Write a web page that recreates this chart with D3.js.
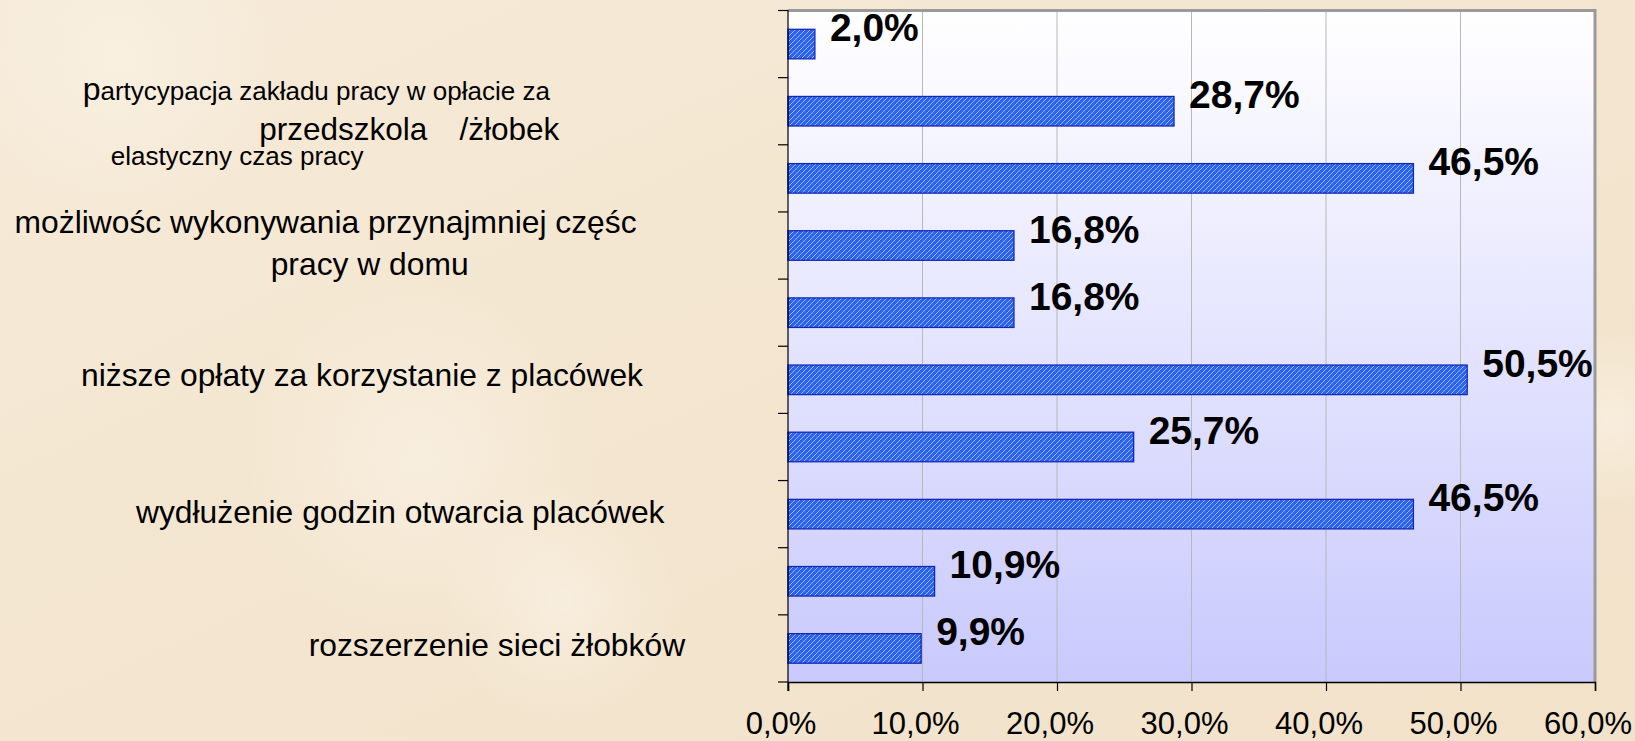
<!DOCTYPE html>
<html>
<head>
<meta charset="utf-8">
<script src="https://cdn.jsdelivr.net/npm/d3@7"></script>
<style>
  html, body { margin: 0; padding: 0; background: #F3E5CF; }
  svg { display: block; }
  text { font-family: "Liberation Sans", Arial, sans-serif; fill: #000; }
</style>
</head>
<body>
<svg id="chart" width="1635" height="741"></svg>
<script>
// ---- data (top to bottom) ----
const categories = [
  "",
  "partycypacja zakładu pracy w opłacie za przedszkola /żłobek",
  "elastyczny czas pracy",
  "możliwośc wykonywania przynajmniej częśc pracy w domu",
  "",
  "niższe opłaty za korzystanie z placówek",
  "",
  "wydłużenie godzin otwarcia placówek",
  "",
  "rozszerzenie sieci żłobków"
];
const values = [2.0, 28.7, 46.5, 16.8, 16.8, 50.5, 25.7, 46.5, 10.9, 9.9];
const xTicks = [0, 10, 20, 30, 40, 50, 60];
const fmt = v => v.toFixed(1).replace(".", ",") + "%";

// ---- layout ----
const W = 1635, H = 741;
const plot = { left: 788, right: 1595, top: 10.5, bottom: 682 };

const svg = d3.select("#chart");
const defs = svg.append("defs");

// page background texture
const bgGrad = defs.append("linearGradient").attr("id", "bg").attr("x1", 0).attr("y1", 0).attr("x2", 1).attr("y2", 1);
bgGrad.append("stop").attr("offset", "0%").attr("stop-color", "#F6EBD9");
bgGrad.append("stop").attr("offset", "50%").attr("stop-color", "#F3E5CF");
bgGrad.append("stop").attr("offset", "100%").attr("stop-color", "#F2E2CA");
svg.append("rect").attr("width", W).attr("height", H).attr("fill", "url(#bg)");
const blobs = [[120, 60, 160], [420, 460, 180], [560, 600, 120], [1610, 420, 90]];
blobs.forEach((b, i) => {
  const g = defs.append("radialGradient").attr("id", "blob" + i);
  g.append("stop").attr("offset", "0%").attr("stop-color", "#FAF2E4").attr("stop-opacity", 0.7);
  g.append("stop").attr("offset", "100%").attr("stop-color", "#FAF2E4").attr("stop-opacity", 0);
  svg.append("circle").attr("cx", b[0]).attr("cy", b[1]).attr("r", b[2]).attr("fill", `url(#blob${i})`);
});

// plot background gradient
const pg = defs.append("linearGradient").attr("id", "plotbg").attr("x1", 0).attr("y1", 0).attr("x2", 0).attr("y2", 1);
pg.append("stop").attr("offset", "0%").attr("stop-color", "#FFFFFF");
pg.append("stop").attr("offset", "100%").attr("stop-color", "#C9C9FD");

// hatch pattern for bars
const pat = defs.append("pattern").attr("id", "hatch").attr("patternUnits", "userSpaceOnUse")
  .attr("width", 5).attr("height", 5);
pat.append("rect").attr("width", 5).attr("height", 5).attr("fill", "#2F60F4");
pat.append("path").attr("d", "M-1,1 l2,-2 M0,5 l5,-5 M4,6 l2,-2")
  .attr("stroke", "#8EC2FF").attr("stroke-width", 1);

// scales
const x = d3.scaleLinear().domain([0, 60]).range([plot.left, plot.right]);
const y = d3.scaleBand().domain(d3.range(categories.length))
  .range([plot.top, plot.bottom]).paddingInner(0.56).paddingOuter(0.28);
const yEdge = d3.scaleLinear().domain([0, categories.length]).range([plot.top, plot.bottom]);
const center = i => y(i) + y.bandwidth() / 2;

// plot area
svg.append("rect").attr("x", plot.left).attr("y", plot.top)
  .attr("width", plot.right - plot.left).attr("height", plot.bottom - plot.top)
  .attr("fill", "url(#plotbg)");

// gridlines
svg.append("g").selectAll("line").data(xTicks.filter(t => t > 0 && t < 60)).join("line")
  .attr("x1", d => x(d)).attr("x2", d => x(d))
  .attr("y1", plot.top).attr("y2", plot.bottom)
  .attr("stroke", "#B8B8B8").attr("stroke-width", 1);

// gray frame top & right
svg.append("path")
  .attr("d", `M${plot.left},${plot.top} H${plot.right} V${plot.bottom}`)
  .attr("fill", "none").attr("stroke", "#9A9A9A").attr("stroke-width", 3);

// bars
svg.append("g").selectAll("rect").data(values).join("rect")
  .attr("x", x(0)).attr("y", (d, i) => y(i))
  .attr("width", d => x(d) - x(0)).attr("height", y.bandwidth())
  .attr("fill", "url(#hatch)").attr("stroke", "#1428B8").attr("stroke-width", 1.3);

// value labels
svg.append("g").selectAll("text").data(values).join("text")
  .attr("x", d => x(d) + 15).attr("y", (d, i) => center(i) - 3)
  .attr("font-size", 39).attr("font-weight", "bold")
  .text(d => fmt(d));

// left axis line and ticks at band edges
const yAxisG = svg.append("g");
yAxisG.append("line").attr("x1", plot.left).attr("x2", plot.left)
  .attr("y1", plot.top - 0.5).attr("y2", plot.bottom + 9).attr("stroke", "#000").attr("stroke-width", 1.2);
yAxisG.selectAll("line.t").data(d3.range(categories.length + 1)).join("line").attr("class", "t")
  .attr("x1", plot.left - 10).attr("x2", plot.left)
  .attr("y1", d => yEdge(d)).attr("y2", d => yEdge(d))
  .attr("stroke", "#000").attr("stroke-width", 1.2);

// bottom axis
const xAxis = d3.axisBottom(x).tickValues(xTicks).tickSize(9).tickPadding(0).tickFormat(fmt);
const xg = svg.append("g").attr("transform", `translate(0,${plot.bottom})`).call(xAxis);
xg.select(".domain").attr("stroke", "#000").attr("stroke-width", 1.5);
xg.selectAll(".tick line").attr("stroke", "#000").attr("stroke-width", 1.2);
xg.selectAll(".tick text")
  .attr("font-family", "'Liberation Sans', Arial, sans-serif")
  .attr("font-size", 31).attr("fill", "#000")
  .attr("dy", null).attr("y", 52).attr("dx", -7.5);

// category label lines (placed by category band, text as in the reference)
const labelLines = [
  { cat: 1, dy: -11.6, x: 82.7, size: 26, first: "p", firstSize: 32, text: "artycypacja zakładu pracy w opłacie za" },
  { cat: 1, dy: 28.4, x: 259.3, size: 31.5, text: "przedszkola", tail: "/żłobek", gap: 32 },
  { cat: 2, dy: -13.1, x: 110.7, size: 26, text: "elastyczny czas pracy" },
  { cat: 3, dy: -12.7, x: 14.6, size: 31.8, text: "możliwośc wykonywania przynajmniej częśc" },
  { cat: 3, dy: 29.3, x: 270.7, size: 31.8, text: "pracy w domu" },
  { cat: 5, dy: 6.2, x: 81, size: 31.8, text: "niższe opłaty za korzystanie z placówek" },
  { cat: 7, dy: 9.3, x: 136, size: 31.8, text: "wydłużenie godzin otwarcia placówek" },
  { cat: 9, dy: 8, x: 308.7, size: 31.8, text: "rozszerzenie sieci żłobków" }
];
const lg = svg.append("g");
labelLines.forEach(l => {
  const t = lg.append("text").attr("x", l.x).attr("y", center(l.cat) + l.dy).attr("font-size", l.size);
  if (l.first) t.append("tspan").attr("font-size", l.firstSize).text(l.first);
  t.append("tspan").text(l.text);
  if (l.tail) t.append("tspan").attr("dx", l.gap).text(l.tail);
});
</script>
</body>
</html>
